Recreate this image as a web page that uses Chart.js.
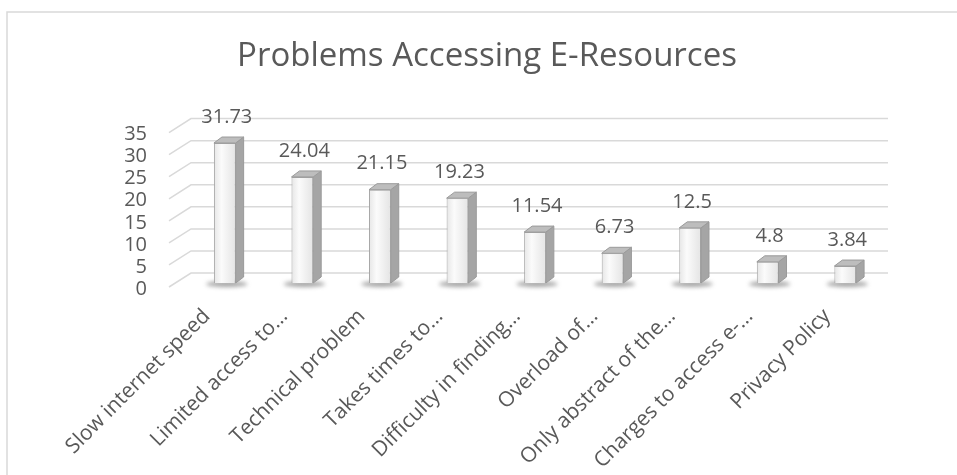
<!DOCTYPE html>
<html>
<head>
<meta charset="utf-8">
<title>Problems Accessing E-Resources</title>
<script src="https://cdn.jsdelivr.net/npm/chart.js@4"></script>
<style>
  html, body { margin: 0; padding: 0; background: #fff; }
  canvas { display: block; }
</style>
</head>
<body>
<canvas id="myChart" width="957" height="475"></canvas>
<script>
// values
const categories = [
    'Slow internet speed',
    'Limited access to…',
    'Technical problem',
    'Takes times to…',
    'Difficulty in finding…',
    'Overload of…',
    'Only abstract of the…',
    'Charges to access e-…',
    'Privacy Policy'
];
const percentages = [31.73, 24.04, 21.15, 19.23, 11.54, 6.73, 12.5, 4.8, 3.84];
const yTicks = [0, 5, 10, 15, 20, 25, 30, 35];

const textGray = '#595959';
const gridGray = '#d9d9d9';
const FONT = '"Open Sans", sans-serif';
const BAR_PCT = 0.28;
const DEPTH_X = 8, DEPTH_Y = 6;

// frame, back grid lines and their slanted floor ends
const backdrop = {
    id: 'backdrop',
    beforeDraw(chart) {
        const ctx = chart.ctx;
        ctx.save();
        ctx.strokeStyle = gridGray;
        ctx.lineWidth = 1.5;
        ctx.strokeRect(7, 12, 1000, 500);
        ctx.restore();
    },
    beforeDatasetsDraw(chart) {
        const ctx = chart.ctx;
        const y = chart.scales.y;
        const area = chart.chartArea;
        ctx.save();
        ctx.strokeStyle = gridGray;
        ctx.lineWidth = 1.5;
        yTicks.forEach(v => {
            const py = y.getPixelForValue(v);
            ctx.beginPath();
            ctx.moveTo(area.left - 17, py + 4);
            ctx.lineTo(area.left + 5, py - 10);
            ctx.lineTo(area.right + 4, py - 10);
            ctx.stroke();
        });
        // soft shadows under the bars
        chart.getDatasetMeta(0).data.forEach(bar => {
            ctx.save();
            ctx.filter = 'blur(2px)';
            ctx.fillStyle = 'rgba(90,90,90,0.55)';
            ctx.beginPath();
            ctx.ellipse(bar.x + 2, bar.base + 1, bar.width * 0.95, 3, 0, 0, Math.PI * 2);
            ctx.fill();
            ctx.restore();
        });
        ctx.restore();
    },
    afterDatasetsDraw(chart) {
        const ctx = chart.ctx;
        ctx.save();
        chart.getDatasetMeta(0).data.forEach((bar, i) => {
            const l = bar.x - bar.width / 2, r = bar.x + bar.width / 2;
            const t = bar.y, b = bar.base;
            // side
            ctx.fillStyle = '#a5a5a5';
            ctx.strokeStyle = '#9a9a9a';
            ctx.lineWidth = 1;
            ctx.beginPath();
            ctx.moveTo(r, t);
            ctx.lineTo(r + DEPTH_X, t - DEPTH_Y);
            ctx.lineTo(r + DEPTH_X, b - DEPTH_Y);
            ctx.lineTo(r, b);
            ctx.closePath();
            ctx.fill();
            ctx.stroke();
            // top
            ctx.fillStyle = '#bdbdbd';
            ctx.beginPath();
            ctx.moveTo(l, t);
            ctx.lineTo(l + DEPTH_X, t - DEPTH_Y);
            ctx.lineTo(r + DEPTH_X, t - DEPTH_Y);
            ctx.lineTo(r, t);
            ctx.closePath();
            ctx.fill();
            ctx.stroke();
            // value label
            ctx.fillStyle = textGray;
            ctx.font = '20px ' + FONT;
            ctx.textAlign = 'center';
            ctx.textBaseline = 'middle';
            ctx.fillText(String(percentages[i]), bar.x + 2, t - 26);
        });
        ctx.restore();
    }
};

function frontFill(context) {
    const chart = context.chart;
    const xs = chart.scales && chart.scales.x;
    if (!xs || !Number.isFinite(xs.width) || xs.width <= 0) return '#f2f2f2';
    const cx = xs.getPixelForValue(context.dataIndex);
    const w = xs.width / categories.length * BAR_PCT;
    if (!Number.isFinite(cx) || !Number.isFinite(w)) return '#f2f2f2';
    const g = chart.ctx.createLinearGradient(cx - w / 2, 0, cx + w / 2, 0);
    g.addColorStop(0, '#e6e6e6');
    g.addColorStop(0.35, '#fbfbfb');
    g.addColorStop(1, '#e4e4e4');
    return g;
}

const ctx = document.getElementById('myChart').getContext('2d');
const myChart = new Chart(ctx, {
    type: 'bar',
    data: {
        labels: categories,
        datasets: [{
            label: 'Problems Accessing E-Resources',
            data: percentages,
            backgroundColor: frontFill,
            borderColor: '#a6a6a6',
            borderWidth: 1,
            barPercentage: BAR_PCT,
            categoryPercentage: 1
        }]
    },
    plugins: [backdrop],
    options: {
        responsive: false,
        animation: false,
        devicePixelRatio: 1,
        layout: { padding: { left: 90, right: 73, top: 0, bottom: 0 } },
        plugins: {
            legend: { display: false },
            tooltip: { enabled: false },
            title: {
                display: true,
                text: 'Problems Accessing E-Resources',
                color: textGray,
                font: { family: FONT, size: 33, weight: 'normal' },
                padding: { top: 37, bottom: 52 }
            }
        },
        scales: {
            x: {
                grid: { display: false, drawTicks: false },
                border: { display: false },
                ticks: {
                    color: textGray,
                    font: { family: FONT, size: 21 },
                    minRotation: 45,
                    maxRotation: 45,
                    autoSkip: false,
                    padding: 21,
                    labelOffset: -18
                },
                afterFit(scale) { scale.height = 192; }
            },
            y: {
                min: 0,
                max: 35,
                grid: { display: false, drawTicks: false },
                border: { display: false },
                ticks: {
                    stepSize: 5,
                    autoSkip: false,
                    color: textGray,
                    font: { family: FONT, size: 20 },
                    padding: 39,
                    labelOffset: 6
                },
                afterFit(scale) { scale.width = 96; }
            }
        }
    }
});
</script>
</body>
</html>
